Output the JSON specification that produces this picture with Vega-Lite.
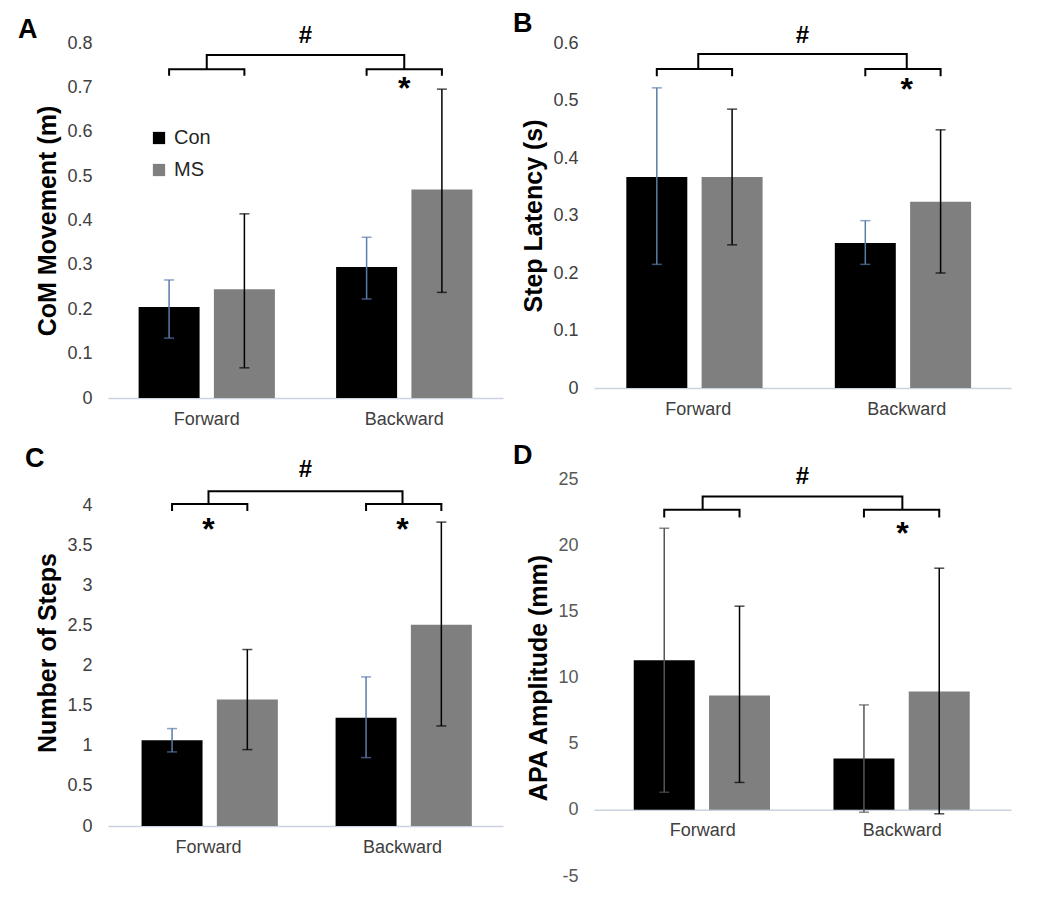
{
  "$schema": "https://vega.github.io/schema/vega-lite/v6.json",
  "autosize": {"type": "none"},
  "padding": {"left": 108, "top": 43, "right": 942, "bottom": 859},
  "background": "white",
  "config": {
    "font": "Liberation Sans",
    "view": {"stroke": null},
    "axisY": {"grid": false, "domain": false, "ticks": false, "labelPadding": 16, "labelFontSize": 18, "labelColor": "#404040", "titleFontSize": 25, "titleFontWeight": "bold", "titleColor": "#000000", "titlePadding": 6},
    "axisX": {"grid": false, "ticks": false, "domainColor": "#C9D3E2", "domainWidth": 1.5, "labelPadding": 12, "labelFontSize": 18, "labelColor": "#404040", "labelAngle": 0, "title": null},
    "title": {"anchor": "start", "frame": "group", "fontSize": 27, "fontWeight": "bold", "color": "#000000", "baseline": "alphabetic", "offset": 0}
  },
  "datasets": {
    "A": [
      {"dir": "Forward", "grp": "Con", "mean": 0.205, "lo": 0.135, "hi": 0.266},
      {"dir": "Forward", "grp": "MS", "mean": 0.245, "lo": 0.068, "hi": 0.415},
      {"dir": "Backward", "grp": "Con", "mean": 0.295, "lo": 0.223, "hi": 0.362},
      {"dir": "Backward", "grp": "MS", "mean": 0.47, "lo": 0.238, "hi": 0.696}
    ],
    "A_low": [
      {"dir": "Forward", "grp": "Con", "y": 0.726, "k": 1}, {"dir": "Forward", "grp": "Con", "y": 0.741, "k": 2},
      {"dir": "Forward", "grp": "MS", "y": 0.741, "k": 3}, {"dir": "Forward", "grp": "MS", "y": 0.726, "k": 4},
      {"dir": "Backward", "grp": "Con", "y": 0.726, "k": 1}, {"dir": "Backward", "grp": "Con", "y": 0.741, "k": 2},
      {"dir": "Backward", "grp": "MS", "y": 0.741, "k": 3}, {"dir": "Backward", "grp": "MS", "y": 0.726, "k": 4}
    ],
    "A_up": [
      {"dir": "Forward", "y": 0.741, "k": 1}, {"dir": "Forward", "y": 0.773, "k": 2},
      {"dir": "Backward", "y": 0.773, "k": 3}, {"dir": "Backward", "y": 0.741, "k": 4}
    ],
    "A_star": [{"dir": "Backward", "y": 0.673, "label": "*"}],
    "A_hash": [{"span": "Forward–Backward", "y": 0.8, "label": "#"}],
    "B": [
      {"dir": "Forward", "grp": "Con", "mean": 0.367, "lo": 0.215, "hi": 0.522},
      {"dir": "Forward", "grp": "MS", "mean": 0.367, "lo": 0.249, "hi": 0.485},
      {"dir": "Backward", "grp": "Con", "mean": 0.252, "lo": 0.215, "hi": 0.291},
      {"dir": "Backward", "grp": "MS", "mean": 0.324, "lo": 0.2, "hi": 0.449}
    ],
    "B_low": [
      {"dir": "Forward", "grp": "Con", "y": 0.542, "k": 1}, {"dir": "Forward", "grp": "Con", "y": 0.555, "k": 2},
      {"dir": "Forward", "grp": "MS", "y": 0.555, "k": 3}, {"dir": "Forward", "grp": "MS", "y": 0.542, "k": 4},
      {"dir": "Backward", "grp": "Con", "y": 0.542, "k": 1}, {"dir": "Backward", "grp": "Con", "y": 0.555, "k": 2},
      {"dir": "Backward", "grp": "MS", "y": 0.555, "k": 3}, {"dir": "Backward", "grp": "MS", "y": 0.542, "k": 4}
    ],
    "B_up": [
      {"dir": "Forward", "y": 0.555, "k": 1}, {"dir": "Forward", "y": 0.581, "k": 2},
      {"dir": "Backward", "y": 0.581, "k": 3}, {"dir": "Backward", "y": 0.555, "k": 4}
    ],
    "B_star": [{"dir": "Backward", "y": 0.501, "label": "*"}],
    "B_hash": [{"span": "Forward–Backward", "y": 0.6, "label": "#"}],
    "C": [
      {"dir": "Forward", "grp": "Con", "mean": 1.068, "lo": 0.923, "hi": 1.214},
      {"dir": "Forward", "grp": "MS", "mean": 1.575, "lo": 0.952, "hi": 2.199},
      {"dir": "Backward", "grp": "Con", "mean": 1.35, "lo": 0.852, "hi": 1.858},
      {"dir": "Backward", "grp": "MS", "mean": 2.507, "lo": 1.247, "hi": 3.787}
    ],
    "C_low": [
      {"dir": "Forward", "grp": "Con", "y": 3.924, "k": 1}, {"dir": "Forward", "grp": "Con", "y": 4.011, "k": 2},
      {"dir": "Forward", "grp": "MS", "y": 4.011, "k": 3}, {"dir": "Forward", "grp": "MS", "y": 3.924, "k": 4},
      {"dir": "Backward", "grp": "Con", "y": 3.924, "k": 1}, {"dir": "Backward", "grp": "Con", "y": 4.011, "k": 2},
      {"dir": "Backward", "grp": "MS", "y": 4.011, "k": 3}, {"dir": "Backward", "grp": "MS", "y": 3.924, "k": 4}
    ],
    "C_up": [
      {"dir": "Forward", "y": 4.011, "k": 1}, {"dir": "Forward", "y": 4.17, "k": 2},
      {"dir": "Backward", "y": 4.17, "k": 3}, {"dir": "Backward", "y": 4.011, "k": 4}
    ],
    "C_star": [{"dir": "Forward", "y": 3.56, "label": "*"}, {"dir": "Backward", "y": 3.56, "label": "*"}],
    "C_hash": [{"span": "Forward–Backward", "y": 4.348, "label": "#"}],
    "D": [
      {"dir": "Forward", "grp": "Con", "mean": 11.31, "lo": 1.33, "hi": 21.28},
      {"dir": "Forward", "grp": "MS", "mean": 8.64, "lo": 2.07, "hi": 15.39},
      {"dir": "Backward", "grp": "Con", "mean": 3.88, "lo": -0.18, "hi": 7.93},
      {"dir": "Backward", "grp": "MS", "mean": 8.94, "lo": -0.3, "hi": 18.26}
    ],
    "D_low": [
      {"dir": "Forward", "grp": "Con", "y": 22.09, "k": 1}, {"dir": "Forward", "grp": "Con", "y": 22.67, "k": 2},
      {"dir": "Forward", "grp": "MS", "y": 22.67, "k": 3}, {"dir": "Forward", "grp": "MS", "y": 22.09, "k": 4},
      {"dir": "Backward", "grp": "Con", "y": 22.09, "k": 1}, {"dir": "Backward", "grp": "Con", "y": 22.67, "k": 2},
      {"dir": "Backward", "grp": "MS", "y": 22.67, "k": 3}, {"dir": "Backward", "grp": "MS", "y": 22.09, "k": 4}
    ],
    "D_up": [
      {"dir": "Forward", "y": 22.67, "k": 1}, {"dir": "Forward", "y": 23.68, "k": 2},
      {"dir": "Backward", "y": 23.68, "k": 3}, {"dir": "Backward", "y": 22.67, "k": 4}
    ],
    "D_star": [{"dir": "Backward", "y": 20.07, "label": "*"}],
    "D_hash": [{"span": "Forward–Backward", "y": 24.64, "label": "#"}]
  },
  "columns": 2,
  "spacing": {"row": 81, "column": 91},
  "bounds": "flush",
  "resolve": {"scale": {"color": "independent"}, "legend": {"color": "independent"}},
  "concat": [
    {
      "width": 395, "height": 355,
      "title": {"text": "A", "dx": -90, "dy": 24},
      "layer": [
        {
          "layer": [
            {"data": {"name": "A"}, "mark": {"type": "bar"},
             "encoding": {
               "x": {"field": "dir", "type": "nominal", "scale": {"domain": ["Forward", "Backward"], "paddingInner": 0.31, "paddingOuter": 0.155}},
               "xOffset": {"field": "grp", "type": "nominal", "scale": {"domain": ["Con", "MS"], "paddingInner": 0.19, "paddingOuter": 0}},
               "y": {"field": "mean", "type": "quantitative", "scale": {"domain": [0, 0.8], "nice": false, "zero": true}, "axis": {"title": "CoM Movement (m)", "values": [0, 0.1, 0.2, 0.3, 0.4, 0.5, 0.6, 0.7, 0.8], "labelExpr": "'' + datum.value"}},
               "color": {"field": "grp", "type": "nominal", "scale": {"domain": ["Con", "MS"], "range": ["#000000", "#7f7f7f"]},
                 "legend": {"orient": "none", "legendX": 41, "legendY": 85, "title": null, "symbolType": "square", "symbolSize": 150, "symbolStrokeWidth": 0, "labelFontSize": 20, "labelColor": "#262626", "rowPadding": 12, "padding": 0, "labelOffset": 5}}
             }},
            {"data": {"name": "A"}, "mark": {"type": "rule", "strokeWidth": 1.5},
             "encoding": {"x": {"field": "dir", "type": "nominal"}, "xOffset": {"field": "grp", "type": "nominal"},
               "y": {"field": "lo", "type": "quantitative"}, "y2": {"field": "hi"},
               "color": {"condition": {"test": "datum.grp === 'Con'", "value": "#5a7bab"}, "value": "#000000"}}},
            {"data": {"name": "A"}, "mark": {"type": "tick", "size": 10, "thickness": 1.5},
             "encoding": {"x": {"field": "dir", "type": "nominal"}, "xOffset": {"field": "grp", "type": "nominal"},
               "y": {"field": "lo", "type": "quantitative"},
               "color": {"condition": {"test": "datum.grp === 'Con'", "value": "#5a7bab"}, "value": "#000000"}}},
            {"data": {"name": "A"}, "mark": {"type": "tick", "size": 10, "thickness": 1.5},
             "encoding": {"x": {"field": "dir", "type": "nominal"}, "xOffset": {"field": "grp", "type": "nominal"},
               "y": {"field": "hi", "type": "quantitative"},
               "color": {"condition": {"test": "datum.grp === 'Con'", "value": "#5a7bab"}, "value": "#000000"}}},
            {"data": {"name": "A_low"}, "mark": {"type": "line", "color": "#000000", "strokeWidth": 2},
             "encoding": {"x": {"field": "dir", "type": "nominal"}, "xOffset": {"field": "grp", "type": "nominal"},
               "y": {"field": "y", "type": "quantitative"}, "detail": {"field": "dir"}, "order": {"field": "k"}}},
            {"data": {"name": "A_up"}, "mark": {"type": "line", "color": "#000000", "strokeWidth": 2},
             "encoding": {"x": {"field": "dir", "type": "nominal"},
               "y": {"field": "y", "type": "quantitative"}, "order": {"field": "k"}}},
            {"data": {"name": "A_star"}, "mark": {"type": "text", "fontSize": 32, "fontWeight": "bold", "baseline": "alphabetic", "color": "#000000"},
             "encoding": {"x": {"field": "dir", "type": "nominal"}, "y": {"field": "y", "type": "quantitative"}, "text": {"field": "label"}}}
          ]
        },
        {"data": {"name": "A_hash"}, "mark": {"type": "text", "fontSize": 24, "fontWeight": "bold", "baseline": "alphabetic", "color": "#000000"},
         "encoding": {"x": {"field": "span", "type": "nominal", "scale": {"paddingInner": 0, "paddingOuter": 0}, "axis": null},
           "y": {"field": "y", "type": "quantitative"}, "text": {"field": "label"}}}
      ],
      "resolve": {"scale": {"x": "independent"}}
    },
    {
      "width": 417, "height": 345,
      "title": {"text": "B", "dx": -81, "dy": 18},
      "layer": [
        {
          "layer": [
            {"data": {"name": "B"}, "mark": {"type": "bar"},
             "encoding": {
               "x": {"field": "dir", "type": "nominal", "scale": {"domain": ["Forward", "Backward"], "paddingInner": 0.31, "paddingOuter": 0.155}},
               "xOffset": {"field": "grp", "type": "nominal", "scale": {"domain": ["Con", "MS"], "paddingInner": 0.19, "paddingOuter": 0}},
               "y": {"field": "mean", "type": "quantitative", "scale": {"domain": [0, 0.6], "nice": false, "zero": true}, "axis": {"title": "Step Latency (s)", "values": [0, 0.1, 0.2, 0.3, 0.4, 0.5, 0.6], "labelExpr": "'' + datum.value"}},
               "color": {"field": "grp", "type": "nominal", "scale": {"domain": ["Con", "MS"], "range": ["#000000", "#7f7f7f"]}, "legend": null}
             }},
            {"data": {"name": "B"}, "mark": {"type": "rule", "strokeWidth": 1.5},
             "encoding": {"x": {"field": "dir", "type": "nominal"}, "xOffset": {"field": "grp", "type": "nominal"},
               "y": {"field": "lo", "type": "quantitative"}, "y2": {"field": "hi"},
               "color": {"condition": {"test": "datum.grp === 'Con'", "value": "#5a7bab"}, "value": "#000000"}}},
            {"data": {"name": "B"}, "mark": {"type": "tick", "size": 10, "thickness": 1.5},
             "encoding": {"x": {"field": "dir", "type": "nominal"}, "xOffset": {"field": "grp", "type": "nominal"},
               "y": {"field": "lo", "type": "quantitative"},
               "color": {"condition": {"test": "datum.grp === 'Con'", "value": "#5a7bab"}, "value": "#000000"}}},
            {"data": {"name": "B"}, "mark": {"type": "tick", "size": 10, "thickness": 1.5},
             "encoding": {"x": {"field": "dir", "type": "nominal"}, "xOffset": {"field": "grp", "type": "nominal"},
               "y": {"field": "hi", "type": "quantitative"},
               "color": {"condition": {"test": "datum.grp === 'Con'", "value": "#5a7bab"}, "value": "#000000"}}},
            {"data": {"name": "B_low"}, "mark": {"type": "line", "color": "#000000", "strokeWidth": 2},
             "encoding": {"x": {"field": "dir", "type": "nominal"}, "xOffset": {"field": "grp", "type": "nominal"},
               "y": {"field": "y", "type": "quantitative"}, "detail": {"field": "dir"}, "order": {"field": "k"}}},
            {"data": {"name": "B_up"}, "mark": {"type": "line", "color": "#000000", "strokeWidth": 2},
             "encoding": {"x": {"field": "dir", "type": "nominal"},
               "y": {"field": "y", "type": "quantitative"}, "order": {"field": "k"}}},
            {"data": {"name": "B_star"}, "mark": {"type": "text", "fontSize": 32, "fontWeight": "bold", "baseline": "alphabetic", "color": "#000000"},
             "encoding": {"x": {"field": "dir", "type": "nominal"}, "y": {"field": "y", "type": "quantitative"}, "text": {"field": "label"}}}
          ]
        },
        {"data": {"name": "B_hash"}, "mark": {"type": "text", "fontSize": 24, "fontWeight": "bold", "baseline": "alphabetic", "color": "#000000"},
         "encoding": {"x": {"field": "span", "type": "nominal", "scale": {"paddingInner": 0, "paddingOuter": 0}, "axis": null},
           "y": {"field": "y", "type": "quantitative"}, "text": {"field": "label"}}}
      ],
      "resolve": {"scale": {"x": "independent"}}
    },
    {
      "width": 395, "height": 347,
      "title": {"text": "C", "dx": -83, "dy": 19},
      "layer": [
        {
          "layer": [
            {"data": {"name": "C"}, "mark": {"type": "bar"},
             "encoding": {
               "x": {"field": "dir", "type": "nominal", "scale": {"domain": ["Forward", "Backward"], "paddingInner": 0.31, "paddingOuter": 0.173}},
               "xOffset": {"field": "grp", "type": "nominal", "scale": {"domain": ["Con", "MS"], "paddingInner": 0.19, "paddingOuter": 0}},
               "y": {"field": "mean", "type": "quantitative", "scale": {"domain": [0, 4.324], "nice": false, "zero": true}, "axis": {"title": "Number of Steps", "values": [0, 0.5, 1, 1.5, 2, 2.5, 3, 3.5, 4], "labelExpr": "'' + datum.value"}},
               "color": {"field": "grp", "type": "nominal", "scale": {"domain": ["Con", "MS"], "range": ["#000000", "#7f7f7f"]}, "legend": null}
             }},
            {"data": {"name": "C"}, "mark": {"type": "rule", "strokeWidth": 1.5},
             "encoding": {"x": {"field": "dir", "type": "nominal"}, "xOffset": {"field": "grp", "type": "nominal"},
               "y": {"field": "lo", "type": "quantitative"}, "y2": {"field": "hi"},
               "color": {"condition": {"test": "datum.grp === 'Con'", "value": "#5a7bab"}, "value": "#000000"}}},
            {"data": {"name": "C"}, "mark": {"type": "tick", "size": 10, "thickness": 1.5},
             "encoding": {"x": {"field": "dir", "type": "nominal"}, "xOffset": {"field": "grp", "type": "nominal"},
               "y": {"field": "lo", "type": "quantitative"},
               "color": {"condition": {"test": "datum.grp === 'Con'", "value": "#5a7bab"}, "value": "#000000"}}},
            {"data": {"name": "C"}, "mark": {"type": "tick", "size": 10, "thickness": 1.5},
             "encoding": {"x": {"field": "dir", "type": "nominal"}, "xOffset": {"field": "grp", "type": "nominal"},
               "y": {"field": "hi", "type": "quantitative"},
               "color": {"condition": {"test": "datum.grp === 'Con'", "value": "#5a7bab"}, "value": "#000000"}}},
            {"data": {"name": "C_low"}, "mark": {"type": "line", "color": "#000000", "strokeWidth": 2},
             "encoding": {"x": {"field": "dir", "type": "nominal"}, "xOffset": {"field": "grp", "type": "nominal"},
               "y": {"field": "y", "type": "quantitative"}, "detail": {"field": "dir"}, "order": {"field": "k"}}},
            {"data": {"name": "C_up"}, "mark": {"type": "line", "color": "#000000", "strokeWidth": 2},
             "encoding": {"x": {"field": "dir", "type": "nominal"},
               "y": {"field": "y", "type": "quantitative"}, "order": {"field": "k"}}},
            {"data": {"name": "C_star"}, "mark": {"type": "text", "fontSize": 32, "fontWeight": "bold", "baseline": "alphabetic", "color": "#000000"},
             "encoding": {"x": {"field": "dir", "type": "nominal"}, "y": {"field": "y", "type": "quantitative"}, "text": {"field": "label"}}}
          ]
        },
        {"data": {"name": "C_hash"}, "mark": {"type": "text", "fontSize": 24, "fontWeight": "bold", "baseline": "alphabetic", "color": "#000000"},
         "encoding": {"x": {"field": "span", "type": "nominal", "scale": {"paddingInner": 0, "paddingOuter": 0}, "axis": null},
           "y": {"field": "y", "type": "quantitative"}, "text": {"field": "label"}}}
      ],
      "resolve": {"scale": {"x": "independent"}}
    },
    {
      "width": 417, "height": 397,
      "title": {"text": "D", "dx": -81, "dy": 9},
      "layer": [
        {
          "layer": [
            {"data": {"name": "D"}, "mark": {"type": "bar"},
             "encoding": {
               "x": {"field": "dir", "type": "nominal", "scale": {"domain": ["Forward", "Backward"], "paddingInner": 0.31, "paddingOuter": 0.199}, "axis": {"offset": -66.17}},
               "xOffset": {"field": "grp", "type": "nominal", "scale": {"domain": ["Con", "MS"], "paddingInner": 0.19, "paddingOuter": 0}},
               "y": {"field": "mean", "type": "quantitative", "scale": {"domain": [-5, 25], "nice": false, "zero": true}, "axis": {"title": "APA Amplitude (mm)", "values": [-5, 0, 5, 10, 15, 20, 25], "labelExpr": "'' + datum.value", "labelColor": "#595959"}},
               "color": {"field": "grp", "type": "nominal", "scale": {"domain": ["Con", "MS"], "range": ["#000000", "#7f7f7f"]}, "legend": null}
             }},
            {"data": {"name": "D"}, "mark": {"type": "rule", "strokeWidth": 1.5},
             "encoding": {"x": {"field": "dir", "type": "nominal"}, "xOffset": {"field": "grp", "type": "nominal"},
               "y": {"field": "lo", "type": "quantitative"}, "y2": {"field": "hi"},
               "color": {"condition": {"test": "datum.grp === 'Con'", "value": "#555555"}, "value": "#000000"}}},
            {"data": {"name": "D"}, "mark": {"type": "tick", "size": 10, "thickness": 1.5},
             "encoding": {"x": {"field": "dir", "type": "nominal"}, "xOffset": {"field": "grp", "type": "nominal"},
               "y": {"field": "lo", "type": "quantitative"},
               "color": {"condition": {"test": "datum.grp === 'Con'", "value": "#555555"}, "value": "#000000"}}},
            {"data": {"name": "D"}, "mark": {"type": "tick", "size": 10, "thickness": 1.5},
             "encoding": {"x": {"field": "dir", "type": "nominal"}, "xOffset": {"field": "grp", "type": "nominal"},
               "y": {"field": "hi", "type": "quantitative"},
               "color": {"condition": {"test": "datum.grp === 'Con'", "value": "#555555"}, "value": "#000000"}}},
            {"data": {"name": "D_low"}, "mark": {"type": "line", "color": "#000000", "strokeWidth": 2},
             "encoding": {"x": {"field": "dir", "type": "nominal"}, "xOffset": {"field": "grp", "type": "nominal"},
               "y": {"field": "y", "type": "quantitative"}, "detail": {"field": "dir"}, "order": {"field": "k"}}},
            {"data": {"name": "D_up"}, "mark": {"type": "line", "color": "#000000", "strokeWidth": 2},
             "encoding": {"x": {"field": "dir", "type": "nominal"},
               "y": {"field": "y", "type": "quantitative"}, "order": {"field": "k"}}},
            {"data": {"name": "D_star"}, "mark": {"type": "text", "fontSize": 32, "fontWeight": "bold", "baseline": "alphabetic", "color": "#000000"},
             "encoding": {"x": {"field": "dir", "type": "nominal"}, "y": {"field": "y", "type": "quantitative"}, "text": {"field": "label"}}}
          ]
        },
        {"data": {"name": "D_hash"}, "mark": {"type": "text", "fontSize": 24, "fontWeight": "bold", "baseline": "alphabetic", "color": "#000000"},
         "encoding": {"x": {"field": "span", "type": "nominal", "scale": {"paddingInner": 0, "paddingOuter": 0}, "axis": null},
           "y": {"field": "y", "type": "quantitative"}, "text": {"field": "label"}}}
      ],
      "resolve": {"scale": {"x": "independent"}}
    }
  ]
}
